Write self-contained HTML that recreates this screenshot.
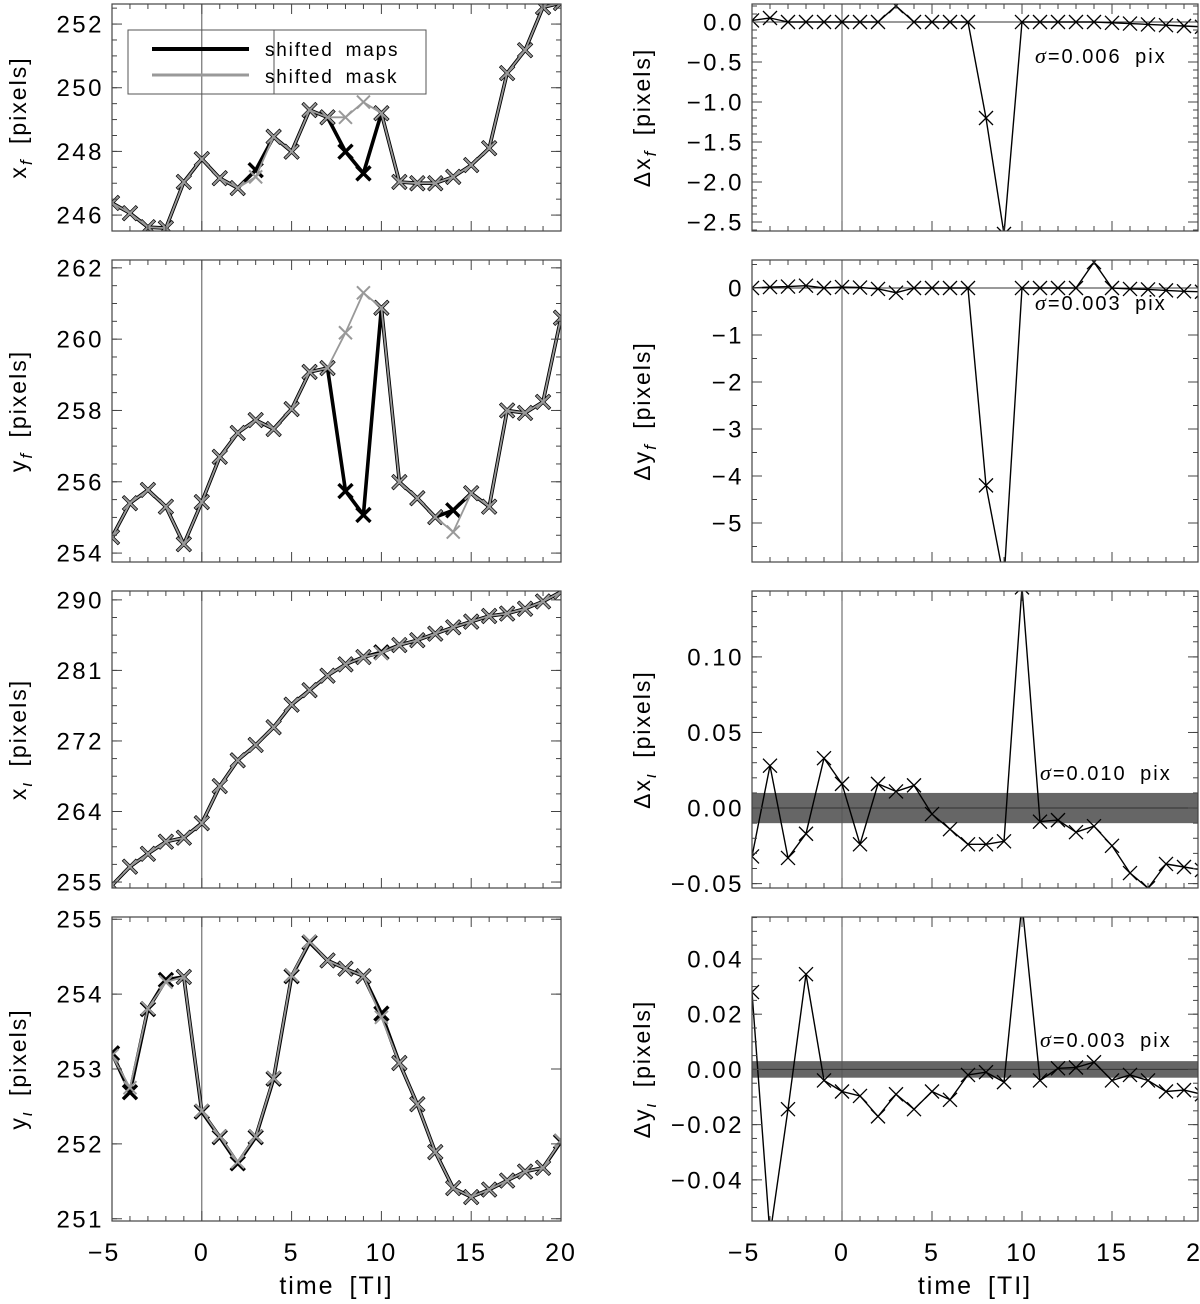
<!DOCTYPE html>
<html><head><meta charset="utf-8"><style>
html,body{margin:0;padding:0;background:#fff;}
svg{display:block;font-family:"Liberation Sans","DejaVu Sans",sans-serif;}
</style></head><body>
<svg id="fig" width="1200" height="1304" viewBox="0 0 1200 1304" xmlns="http://www.w3.org/2000/svg"></svg>
<script>
const times = [-5,-4,-3,-2,-1,0,1,2,3,4,5,6,7,8,9,10,11,12,13,14,15,16,17,18,19,20];
const xfMaps = [246.38,246.06,245.62,245.59,247.04,247.76,247.16,246.85,247.41,248.46,247.99,249.30,249.07,247.99,247.31,249.2,247.04,247.0,247.0,247.2,247.57,248.1,250.46,251.18,252.53,252.66];
const xfMask = [246.38,246.06,245.62,245.59,247.04,247.76,247.16,246.85,247.2,248.46,247.99,249.30,249.07,249.07,249.55,249.2,247.04,247.0,247.0,247.2,247.57,248.1,250.46,251.18,252.53,252.66];
const yfMaps = [254.45,255.4,255.77,255.3,254.25,255.43,256.7,257.37,257.73,257.48,258.04,259.08,259.19,255.74,255.07,260.88,255.99,255.54,255.01,255.2,255.68,255.3,258.0,257.93,258.24,260.6];
const yfMask = [254.45,255.4,255.77,255.3,254.25,255.43,256.7,257.37,257.73,257.48,258.04,259.08,259.19,260.18,261.3,260.88,255.99,255.54,255.01,254.59,255.68,255.3,258.0,257.93,258.24,260.6];
const xlMaps = [254.6,256.9,258.5,260.0,260.5,262.3,266.9,270.1,272.0,274.2,277.0,278.8,280.6,282.0,282.9,283.5,284.4,285.0,285.8,286.6,287.3,288.0,288.3,288.9,289.8,291.0];
const xlMask = [254.6,256.9,258.5,260.0,260.5,262.3,266.9,270.1,272.0,274.2,277.0,278.8,280.6,282.0,282.9,283.4,284.4,285.0,285.8,286.6,287.3,288.0,288.3,288.9,289.8,291.0];
const ylMaps = [253.21,252.69,253.8,254.19,254.23,252.43,252.09,251.74,252.09,252.87,254.24,254.69,254.45,254.34,254.24,253.74,253.08,252.53,251.89,251.41,251.29,251.39,251.51,251.63,251.68,252.03];
const ylMask = [253.18,252.75,253.81,254.16,254.23,252.44,252.10,251.76,252.10,252.88,254.25,254.70,254.45,254.34,254.24,253.69,253.08,252.53,251.89,251.41,251.29,251.39,251.51,251.63,251.68,252.04];
const dxf = [0.02,0.05,0,0,0,0,0,0,0.2,0,0,0,0,-1.2,-2.65,0,0,0,0,0,-0.01,-0.02,-0.03,-0.04,-0.05,-0.06];
const dyf = [0,0.02,0.03,0.05,0,0.02,0.01,-0.02,-0.1,0,0,0,0,-4.2,-6.2,0,0,0,0,0.55,0,-0.02,-0.03,-0.05,-0.07,-0.08];
const dxl = [-0.032,0.028,-0.033,-0.017,0.033,0.016,-0.024,0.016,0.011,0.015,-0.004,-0.014,-0.024,-0.024,-0.022,0.146,-0.009,-0.008,-0.016,-0.012,-0.025,-0.043,-0.053,-0.037,-0.039,-0.041];
const dyl = [0.028,-0.06,-0.0144,0.0345,-0.004,-0.008,-0.0096,-0.017,-0.009,-0.0144,-0.008,-0.011,-0.002,-0.001,-0.0046,0.06,-0.004,0.0004,0.0007,0.0026,-0.004,-0.002,-0.004,-0.008,-0.0075,-0.009];
const sigmas = ["0.006","0.003","0.010","0.003"];
const xTicks = [-5,0,5,10,15,20];

const NS = "http://www.w3.org/2000/svg";
const svg = document.getElementById("fig");
function el(tag, attrs, parent){const e=document.createElementNS(NS,tag);for(const k in attrs)e.setAttribute(k,attrs[k]);(parent||svg).appendChild(e);return e;}
let clipId=0;

function panel(o){
  const g = el("g",{});
  
  
  const xs = t => o.x0 + (t+5)/25*(o.xe-o.x0);
  const ys = v => o.y1 - (v-o.ymin)/(o.ymax-o.ymin)*(o.y1-o.y0);
  const cid = "c"+(clipId++);
  const cp = el("clipPath",{id:cid},g);
  el("rect",{x:o.x0,y:o.y0,width:o.xr-o.x0,height:o.y1-o.y0},cp);
  const pg = el("g",{"clip-path":"url(#"+cid+")"},g);
  if(o.band){
    const b = el("rect",{x:o.x0,y:ys(o.band),width:o.xr-o.x0,height:ys(-o.band)-ys(o.band),fill:"#666"},pg);
    
    
  }
  el("line",{x1:xs(0),x2:xs(0),y1:o.y0,y2:o.y1,stroke:"#555","stroke-width":1},pg);
  if(o.hzero){el("line",{x1:o.x0,x2:o.xr,y1:ys(0),y2:ys(0),stroke:"#333","stroke-width":1},pg);}
  o.series.forEach(s=>{
    const sg = el("g",{},pg);
    
    
    const pts = s.vals.map((v,i)=>xs(times[i]).toFixed(1)+","+ys(v).toFixed(1)).join(" ");
    el("polyline",{points:pts,fill:"none",stroke:s.color,"stroke-width":s.lw,"stroke-linejoin":"round"},sg);
    const m = s.ms;
    s.vals.forEach((v,i)=>{
      const cx=xs(times[i]), cy=ys(v);
      const p = el("path",{d:`M${cx-m},${cy-m}L${cx+m},${cy+m}M${cx-m},${cy+m}L${cx+m},${cy-m}`,stroke:s.color,"stroke-width":s.mw,fill:"none"},sg);
      
      
    });
  });
  el("rect",{x:o.x0,y:o.y0,width:o.xr-o.x0,height:o.y1-o.y0,fill:"none",stroke:"#444","stroke-width":1.2},g);
  for(let t=-5;t<=20;t++){
    const x=xs(t); if(x>o.xr) continue;
    const L = (t%5===0)?10:5;
    el("line",{x1:x,x2:x,y1:o.y1,y2:o.y1-L,stroke:"#444","stroke-width":1},g);
    el("line",{x1:x,x2:x,y1:o.y0,y2:o.y0+L,stroke:"#444","stroke-width":1},g);
  }
  for(let v=o.mstart; v<=o.ymax+1e-9; v+=o.minor){
    if(v<o.ymin-1e-9) continue;
    const y=ys(v);
    el("line",{x1:o.x0,x2:o.x0+5,y1:y,y2:y,stroke:"#444","stroke-width":1},g);
    el("line",{x1:o.xr,x2:o.xr-5,y1:y,y2:y,stroke:"#444","stroke-width":1},g);
  }
  o.ticks.forEach((v,i)=>{
    const y=ys(v);
    el("line",{x1:o.x0,x2:o.x0+10,y1:y,y2:y,stroke:"#444","stroke-width":1},g);
    el("line",{x1:o.xr,x2:o.xr-10,y1:y,y2:y,stroke:"#444","stroke-width":1},g);
    const tx = el("text",{x:o.x0-8,y:y+8.5,"text-anchor":"end","font-size":24,"letter-spacing":2.5,fill:"#000"},g);
    tx.textContent = o.labels[i];
    
    
  });
  const cy=(o.y0+o.y1)/2;
  const tt = el("text",{x:o.tx,y:cy,transform:`rotate(-90 ${o.tx} ${cy})`,"text-anchor":"middle","font-size":23,"letter-spacing":2,"word-spacing":6,fill:"#000"},g);
  
  
  tt.innerHTML = o.title[0]+'<tspan font-style="italic" font-size="17" dy="6">'+o.title[1]+'</tspan><tspan dy="-6"> [pixels]</tspan>';
  if(o.sigma){
    const st = el("text",{x:o.sx,y:o.sy,"font-size":20,"letter-spacing":2,"word-spacing":6,fill:"#000"},g);
    
    
    st.innerHTML = '<tspan font-style="italic" font-family="Liberation Serif, serif" font-size="22">σ</tspan>='+o.sigma+' pix';
  }
  if(o.xlabels){
    xTicks.forEach(t=>{
      const lt = el("text",{x:xs(t)-(t<0?8:0),y:1261,"text-anchor":"middle","font-size":25,"letter-spacing":2,fill:"#000"},g);
      lt.textContent = String(t).replace("-","−");
      
      
    });
    const xt = el("text",{x:(o.x0+Math.min(o.xr,o.xe))/2,y:1294,"text-anchor":"middle","font-size":25,"letter-spacing":2,"word-spacing":6,fill:"#000"},g);
    xt.textContent = "time [TI]";
    
    
  }
  return {xs,ys,g};
}
function lr(maps,mask){return [
  {name:"shifted-maps-series",vals:maps,color:"#000",lw:3.6,ms:7,mw:3.4},
  {name:"shifted-mask-series",vals:mask,color:"#999",lw:1.8,ms:6.5,mw:2}];}
function rs(v){return [{name:"difference-series",vals:v,color:"#000",lw:1.4,ms:7,mw:1.3}];}

const L={x0:112,xe:561,xr:561,tx:26};
const R={x0:752,xe:1202,xr:1198,tx:650};
panel(Object.assign({},L,{name:"panel-xf",y0:4,y1:231,ymin:245.5,ymax:252.63,ticks:[246,248,250,252],labels:["246","248","250","252"],minor:0.5,mstart:245.5,series:lr(xfMaps,xfMask),title:["x","f"]}));
panel(Object.assign({},L,{name:"panel-yf",y0:260,y1:562,ymin:253.75,ymax:262.22,ticks:[254,256,258,260,262],labels:["254","256","258","260","262"],minor:0.5,mstart:254,series:lr(yfMaps,yfMask),title:["y","f"]}));
panel(Object.assign({},L,{name:"panel-xl",y0:591,y1:888,ymin:254.26,ymax:291.1,ticks:[255,263.75,272.5,281.25,290],labels:["255","264","272","281","290"],minor:2.1875,mstart:255,series:lr(xlMaps,xlMask),title:["x","ι"]}));
panel(Object.assign({},L,{name:"panel-yl",y0:917,y1:1221,ymin:250.97,ymax:255.03,ticks:[251,252,253,254,255],labels:["251","252","253","254","255"],minor:1,mstart:251,series:lr(ylMaps,ylMask),title:["y","ι"],xlabels:true}));

panel(Object.assign({},R,{name:"panel-dxf",y0:4,y1:231,ymin:-2.6125,ymax:0.225,ticks:[0,-0.5,-1,-1.5,-2,-2.5],labels:["0.0","−0.5","−1.0","−1.5","−2.0","−2.5"],minor:0.1,mstart:-2.6,series:rs(dxf),title:["Δx","f"],hzero:true,sigma:sigmas[0],sx:1035,sy:63}));
panel(Object.assign({},R,{name:"panel-dyf",y0:260,y1:562,ymin:-5.83,ymax:0.596,ticks:[0,-1,-2,-3,-4,-5],labels:["0","−1","−2","−3","−4","−5"],minor:0.5,mstart:-5.5,series:rs(dyf),title:["Δy","f"],hzero:true,sigma:sigmas[1],sx:1035,sy:310}));
panel(Object.assign({},R,{name:"panel-dxl",y0:591,y1:888,ymin:-0.0529,ymax:0.1436,ticks:[-0.05,0,0.05,0.10],labels:["−0.05","0.00","0.05","0.10"],minor:0.01,mstart:-0.05,series:rs(dxl),title:["Δx","ι"],hzero:true,band:0.010,sigma:sigmas[2],sx:1040,sy:780}));
panel(Object.assign({},R,{name:"panel-dyl",y0:917,y1:1221,ymin:-0.0549,ymax:0.0552,ticks:[-0.04,-0.02,0,0.02,0.04],labels:["−0.04","−0.02","0.00","0.02","0.04"],minor:0.005,mstart:-0.05,series:rs(dyl),title:["Δy","ι"],hzero:true,band:0.003,sigma:sigmas[3],sx:1040,sy:1047,xlabels:true}));

const lg = el("g",{});


el("rect",{x:128,y:30,width:298,height:64,fill:"none",stroke:"#555","stroke-width":1},lg);
el("line",{x1:274,x2:274,y1:30,y2:94,stroke:"#555","stroke-width":1},lg);
const le1 = el("g",{},lg);


el("line",{x1:152,x2:249,y1:49,y2:49,stroke:"#000","stroke-width":4},le1);
const t1 = el("text",{x:265,y:56,"font-size":19,"letter-spacing":1.8,"word-spacing":5,fill:"#000"},le1); t1.textContent="shifted maps";
const le2 = el("g",{},lg);


el("line",{x1:152,x2:249,y1:75,y2:75,stroke:"#999","stroke-width":3},le2);
const t2 = el("text",{x:265,y:83,"font-size":19,"letter-spacing":1.8,"word-spacing":5,fill:"#000"},le2); t2.textContent="shifted mask";
</script>
</body></html>
